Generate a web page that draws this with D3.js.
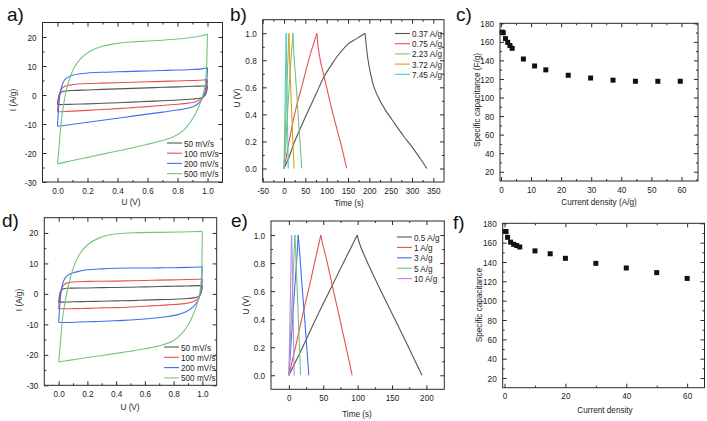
<!DOCTYPE html>
<html><head><meta charset="utf-8">
<script src="https://cdn.jsdelivr.net/npm/d3@7"></script>
<style>body{margin:0;background:#fff}svg{display:block}</style>
</head><body><svg id="c" width="707" height="421"></svg>
<script>
// ---------- Panel a: CV curves (U in V, I in A/g) ----------
const cvLegendA = ["50 mV/s","100 mV/s","200 mV/s","500 mV/s"];
const cvA50 = [[0,-3.3],[0.003,-2.0],[0.008,-0.5],[0.015,0.5],[0.03,1.1],[0.06,1.4],[0.1,1.55],[0.2,1.75],[0.3,1.95],[0.4,2.1],[0.5,2.3],[0.6,2.45],[0.7,2.65],[0.8,2.8],[0.9,3.0],[0.97,3.1],[1.0,3.2],
  [0.998,2.2],[0.993,1.0],[0.985,0.0],[0.97,-0.7],[0.95,-1.1],[0.9,-1.4],[0.8,-1.75],[0.7,-2.0],[0.6,-2.2],[0.5,-2.45],[0.4,-2.65],[0.3,-2.85],[0.2,-3.05],[0.1,-3.2],[0.03,-3.3],[0,-3.3]];
const cvA100 = [[0,-5.8],[0.003,-3.5],[0.008,-1.0],[0.015,0.8],[0.03,2.3],[0.05,3.0],[0.08,3.4],[0.12,3.7],[0.2,3.95],[0.3,4.1],[0.4,4.25],[0.5,4.4],[0.6,4.55],[0.7,4.7],[0.8,4.85],[0.9,5.0],[0.97,5.15],[1.0,5.3],
  [0.998,3.8],[0.993,2.0],[0.985,0.5],[0.97,-0.7],[0.95,-1.6],[0.92,-2.3],[0.87,-2.8],[0.8,-3.2],[0.7,-3.6],[0.6,-4.0],[0.5,-4.35],[0.4,-4.7],[0.3,-5.0],[0.2,-5.3],[0.1,-5.55],[0.03,-5.75],[0,-5.8]];
const cvA200 = [[0,-10.8],[0.003,-8],[0.008,-4],[0.015,-0.5],[0.025,2.5],[0.04,4.6],[0.06,5.8],[0.1,6.8],[0.15,7.3],[0.2,7.6],[0.3,7.85],[0.4,8.0],[0.5,8.15],[0.6,8.3],[0.7,8.45],[0.8,8.6],[0.9,8.8],[0.97,9.1],[1.0,9.5],
  [0.998,7],[0.993,4],[0.985,1.5],[0.97,-0.8],[0.95,-2.4],[0.92,-3.6],[0.88,-4.4],[0.8,-5.2],[0.7,-5.9],[0.6,-6.6],[0.5,-7.3],[0.4,-8.0],[0.3,-8.7],[0.2,-9.4],[0.1,-10.1],[0.03,-10.6],[0,-10.8]];
const cvA500 = [[0,-23.7],[0.01,-18],[0.02,-12],[0.03,-7],[0.045,-2],[0.06,2],[0.08,5.5],[0.1,8.3],[0.13,11],[0.17,13.3],[0.22,15.2],[0.3,16.8],[0.4,17.8],[0.5,18.3],[0.6,18.6],[0.7,18.9],[0.8,19.3],[0.9,19.9],[0.97,20.5],[1.0,21],
  [0.997,15],[0.993,9],[0.985,4],[0.97,0],[0.95,-3],[0.92,-6.5],[0.88,-9.8],[0.84,-12.2],[0.78,-14.2],[0.7,-15.7],[0.6,-17],[0.5,-18.2],[0.4,-19.3],[0.3,-20.4],[0.2,-21.5],[0.1,-22.6],[0.03,-23.4],[0,-23.7]];

// ---------- Panel d: CV curves ----------
const cvLegendD = ["50 mV/s","100 mV/s","200 mV/s","500 mV/s"];
const cvD50 = [[0,-2.7],[0.003,-1.5],[0.008,0],[0.015,1.0],[0.03,1.6],[0.06,1.85],[0.1,1.9],[0.2,1.95],[0.3,2.05],[0.4,2.1],[0.5,2.2],[0.6,2.3],[0.7,2.4],[0.8,2.5],[0.9,2.6],[0.97,2.7],[1.0,2.8],
  [0.998,1.8],[0.993,0.6],[0.985,-0.3],[0.97,-0.9],[0.94,-1.3],[0.9,-1.5],[0.8,-1.75],[0.7,-1.9],[0.6,-2.05],[0.5,-2.2],[0.4,-2.3],[0.3,-2.4],[0.2,-2.5],[0.1,-2.6],[0.03,-2.7],[0,-2.7]];
const cvD100 = [[0,-4.9],[0.003,-3],[0.008,-0.8],[0.015,1.0],[0.03,2.6],[0.05,3.4],[0.08,3.8],[0.12,4.0],[0.2,4.1],[0.3,4.15],[0.4,4.2],[0.5,4.3],[0.6,4.4],[0.7,4.5],[0.8,4.6],[0.9,4.7],[0.97,4.8],[1.0,4.9],
  [0.998,3.5],[0.995,2],[0.99,0.5],[0.98,-0.8],[0.96,-1.9],[0.93,-2.7],[0.88,-3.2],[0.8,-3.5],[0.7,-3.8],[0.6,-4.05],[0.5,-4.3],[0.4,-4.5],[0.3,-4.6],[0.2,-4.75],[0.1,-4.85],[0.03,-4.9],[0,-4.9]];
const cvD200 = [[0,-9.4],[0.003,-7],[0.008,-3.5],[0.015,0],[0.025,2.8],[0.04,4.8],[0.06,6.0],[0.1,6.9],[0.15,7.5],[0.2,7.9],[0.3,8.2],[0.4,8.4],[0.5,8.5],[0.6,8.5],[0.7,8.55],[0.8,8.6],[0.9,8.7],[0.97,8.8],[1.0,9.0],
  [0.998,6.5],[0.995,3.5],[0.99,1.2],[0.98,-1],[0.96,-2.9],[0.93,-4.5],[0.89,-5.8],[0.83,-6.8],[0.75,-7.5],[0.65,-8.0],[0.55,-8.4],[0.45,-8.7],[0.35,-8.9],[0.25,-9.1],[0.15,-9.25],[0.05,-9.4],[0,-9.4]];
const cvD500 = [[0,-22.3],[0.01,-17],[0.02,-11.5],[0.03,-7],[0.045,-2.5],[0.06,1],[0.08,5],[0.1,8.3],[0.13,11.7],[0.17,14.6],[0.22,16.8],[0.28,18.3],[0.35,19.3],[0.45,19.9],[0.55,20.1],[0.7,20.2],[0.85,20.3],[1.0,20.5],
  [0.998,14],[0.995,7],[0.99,3],[0.975,-1.5],[0.955,-4.5],[0.93,-7.5],[0.9,-10.3],[0.86,-12.9],[0.8,-15.3],[0.72,-16.8],[0.6,-18],[0.5,-18.8],[0.4,-19.5],[0.3,-20.2],[0.2,-20.9],[0.1,-21.6],[0.03,-22.1],[0,-22.3]];

// ---------- Panel b: GCD curves (time s, U V) ----------
const gcdLegendB = ["0.37 A/g","0.75 A/g","2.23 A/g","3.72 A/g","7.45 A/g"];
const gcdB037 = [[0,0],[10,0.07],[25,0.2],[50,0.38],[75,0.55],[94,0.68],[110,0.76],[125,0.83],[150,0.92],[170,0.96],[190,1.0],
  [193,0.9],[197,0.8],[203,0.7],[211,0.6],[225,0.5],[240,0.42],[260,0.33],[280,0.24],[300,0.16],[320,0.07],[335,0]];
const gcdB075 = [[0,0],[5,0.08],[10,0.17],[20,0.33],[30,0.47],[43,0.62],[55,0.77],[65,0.88],[72,0.95],[77,1.0],
  [80,0.9],[85,0.8],[94,0.68],[105,0.53],[115,0.4],[125,0.28],[135,0.16],[147,0]];
const gcdB223 = [[0,0],[3,0.12],[7,0.35],[11,0.55],[15,0.75],[18,0.88],[21,1.0],[23,0.85],[27,0.68],[31,0.5],[35,0.3],[38,0.17],[41.5,0]];
const gcdB372 = [[0,0],[2,0.15],[4,0.35],[6,0.55],[8,0.72],[10,0.88],[11.5,1.0],[12.5,0.86],[15,0.65],[17.5,0.45],[20,0.25],[23.5,0]];
const gcdB745 = [[0,0],[1,0.2],[2,0.4],[3,0.6],[4,0.8],[5,1.0],[5.8,0.8],[6.8,0.6],[7.8,0.4],[8.8,0.2],[10,0]];

// ---------- Panel e: GCD curves ----------
const gcdLegendE = ["0.5 A/g","1 A/g","3 A/g","5 A/g","10 A/g"];
const gcdE05 = [[0,0],[20,0.2],[40,0.41],[60,0.61],[80,0.81],[99.5,1.0],[102,0.95],[110,0.85],[130,0.64],[150,0.44],[170,0.24],[193.5,0]];
const gcdE1 = [[0,0],[10,0.21],[20,0.43],[30,0.64],[40,0.86],[46.5,1.0],[48,0.96],[55,0.82],[65,0.6],[75,0.38],[85,0.16],[92,0]];
const gcdE3 = [[0,0],[3,0.22],[6,0.44],[9,0.66],[12,0.87],[13.5,1.0],[15,0.92],[19,0.65],[23,0.4],[26,0.2],[29,0]];
const gcdE5 = [[0,0],[2,0.23],[4,0.46],[6,0.69],[8.7,1.0],[9.5,0.93],[12,0.62],[14.5,0.31],[17,0]];
const gcdE10 = [[0,0],[1,0.25],[2,0.5],[3,0.75],[3.9,1.0],[4.5,0.9],[5.5,0.62],[6.5,0.33],[7.7,0]];

// ---------- Panel c / f: specific capacitance ----------
const currentC = [0.37,0.75,1.49,2.23,2.98,3.72,7.45,11.17,14.9,22.35,29.8,37.25,44.7,52.15,59.6];
const capC = [170.5,169.8,163.5,159.5,156,153,141.5,134,129.8,124,121,118.7,117.5,117.5,117.5];
const currentF = [0.2,0.5,1,2,3,4,5,10,15,20,30,40,50,60];
const capF = [171.5,171.5,165.5,160.5,158.3,157,155.5,151.5,148.5,143.8,138.6,133.8,129,123];

// ---------- tick labels ----------
const cvXTicks = [0,0.2,0.4,0.6,0.8,1.0];
const cvXTickLabels = ["0.0","0.2","0.4","0.6","0.8","1.0"];
const cvYTicks = [-30,-20,-10,0,10,20];
const cvYTickLabels = ["-30","-20","-10","0","10","20"];
const bXTicks = [-50,0,50,100,150,200,250,300,350];
const bXTickLabels = ["-50","0","50","100","150","200","250","300","350"];
const eXTicks = [0,50,100,150,200];
const eXTickLabels = ["0","50","100","150","200"];
const uYTicks = [0,0.2,0.4,0.6,0.8,1.0];
const uYTickLabels = ["0.0","0.2","0.4","0.6","0.8","1.0"];
const cXTicks = [0,10,20,30,40,50,60];
const cXTickLabels = ["0","10","20","30","40","50","60"];
const fXTicks = [0,20,40,60];
const fXTickLabels = ["0","20","40","60"];
const capYTicks = [20,40,60,80,100,120,140,160,180];
const capYTickLabels = ["20","40","60","80","100","120","140","160","180"];

const GRAY = "#555555", RED = "#e8504c", BLUE = "#3f6fee", GREEN = "#76c47a", ORANGE = "#d6a21e", CYAN = "#3fd3cc", VIOLET = "#c184f2";
const FONT = "'Liberation Sans',Arial,sans-serif";
const FS = 9.5;
const svg = d3.select('#c');

function drawPanel(p) {
  const [l, r, t, b] = p.box;
  const x = d3.scaleLinear().domain(p.xDomain).range([l, r]);
  const y = d3.scaleLinear().domain(p.yDomain).range([b, t]);
  const g = svg.append('g');
  const line = d3.line().x(d => x(d[0])).y(d => y(d[1])).curve(d3.curveCatmullRom.alpha(0.5));
  (p.series || []).forEach(s => {
    const k = d3.maxIndex(s.data, d => d[1]);
    [s.data.slice(0, k + 1), s.data.slice(k)].forEach(seg => {
      if (seg.length > 1) g.append('path').attr('d', line(seg)).attr('fill', 'none')
        .attr('stroke', s.color).attr('stroke-width', 1.1);
    });
  });
  if (p.points) {
    const ms = 5;
    g.selectAll('rect.pt').data(p.points.x.map((v, i) => [v, p.points.y[i]])).join('rect')
      .attr('x', d => x(d[0]) - ms / 2).attr('y', d => y(d[1]) - ms / 2)
      .attr('width', ms).attr('height', ms).attr('fill', '#111');
  }
  g.append('rect').attr('x', l).attr('y', t).attr('width', r - l).attr('height', b - t)
    .attr('fill', 'none').attr('stroke', '#2a2a2a').attr('stroke-width', 1);
  const style = sel => {
    sel.select('.domain').remove();
    sel.attr('font-family', FONT).attr('font-size', FS);
    sel.selectAll('line').attr('stroke', '#2a2a2a');
    sel.selectAll('text').attr('fill', '#222').classed('cond', true);
  };
  const none = () => '';
  g.append('g').attr('transform', `translate(0,${b})`)
    .call(d3.axisBottom(x).tickValues(p.xTicks).tickFormat((d, i) => p.xLabels[i]).tickSize(-4).tickSizeOuter(0).tickPadding(5)).call(style);
  g.append('g').attr('transform', `translate(0,${b})`)
    .call(d3.axisBottom(x).tickValues(p.xMinor).tickFormat(none).tickSize(-2).tickSizeOuter(0)).call(style);
  g.append('g').attr('transform', `translate(0,${t})`)
    .call(d3.axisTop(x).tickValues(p.xTicks).tickFormat(none).tickSize(-4).tickSizeOuter(0)).call(style);
  g.append('g').attr('transform', `translate(0,${t})`)
    .call(d3.axisTop(x).tickValues(p.xMinor).tickFormat(none).tickSize(-2).tickSizeOuter(0)).call(style);
  g.append('g').attr('transform', `translate(${l},0)`)
    .call(d3.axisLeft(y).tickValues(p.yTicks).tickFormat((d, i) => p.yLabels[i]).tickSize(-4).tickSizeOuter(0).tickPadding(6)).call(style);
  g.append('g').attr('transform', `translate(${l},0)`)
    .call(d3.axisLeft(y).tickValues(p.yMinor).tickFormat(none).tickSize(-2).tickSizeOuter(0)).call(style);
  g.append('g').attr('transform', `translate(${r},0)`)
    .call(d3.axisRight(y).tickValues(p.yTicks).tickFormat(none).tickSize(-4).tickSizeOuter(0)).call(style);
  g.append('g').attr('transform', `translate(${r},0)`)
    .call(d3.axisRight(y).tickValues(p.yMinor).tickFormat(none).tickSize(-2).tickSizeOuter(0)).call(style);
  g.append('text').attr('class', 'cond').attr('x', p.xTitle[1]).attr('y', p.xTitle[2]).attr('text-anchor', 'middle')
    .attr('font-family', FONT).attr('font-size', FS).attr('fill', '#222').text(p.xTitle[0]);
  g.append('text').attr('class', 'cond').attr('transform', `translate(${p.yTitle[1]},${p.yTitle[2]}) rotate(-90)`)
    .attr('text-anchor', 'middle').attr('dominant-baseline', 'central')
    .attr('font-family', FONT).attr('font-size', FS).attr('fill', '#222').text(p.yTitle[0]);
  g.append('text').attr('x', p.tag[1]).attr('y', p.tag[2]).attr('font-family', FONT)
    .attr('font-size', 19).attr('fill', '#111').text(p.tag[0]);
  if (p.legend) {
    const [lx, ly, dy] = p.legend.pos;
    p.legend.labels.forEach((lab, i) => {
      const yy = ly + i * dy;
      g.append('line').attr('x1', lx).attr('x2', lx + 15).attr('y1', yy).attr('y2', yy)
        .attr('stroke', p.series[i].color).attr('stroke-width', 1.1);
      g.append('text').attr('class', 'cond').attr('x', lx + 17).attr('y', yy).attr('dominant-baseline', 'central')
        .attr('font-family', FONT).attr('font-size', FS).attr('fill', '#222').text(lab);
    });
  }
}

drawPanel({
  box: [42.5, 222.5, 22.5, 182], xDomain: [-0.1, 1.1], yDomain: [-30, 25],
  xTicks: cvXTicks, xLabels: cvXTickLabels, xMinor: [0.1, 0.3, 0.5, 0.7, 0.9],
  yTicks: cvYTicks, yLabels: cvYTickLabels, yMinor: [-25, -15, -5, 5, 15],
  series: [{data: cvA50, color: GRAY}, {data: cvA100, color: RED}, {data: cvA200, color: BLUE}, {data: cvA500, color: GREEN}],
  legend: {labels: cvLegendA, pos: [167, 143, 10.2]},
  xTitle: ["U (V)", 131, 205], yTitle: ["I (A/g)", 12, 100], tag: ["a)", 7, 21]
});
drawPanel({
  box: [262.7, 444, 19.7, 182], xDomain: [-50, 375], yDomain: [-0.1, 1.1],
  xTicks: bXTicks, xLabels: bXTickLabels, xMinor: [-25, 25, 75, 125, 175, 225, 275, 325],
  yTicks: uYTicks, yLabels: uYTickLabels, yMinor: [0.1, 0.3, 0.5, 0.7, 0.9],
  series: [{data: gcdB037, color: GRAY}, {data: gcdB075, color: RED}, {data: gcdB223, color: GREEN}, {data: gcdB372, color: ORANGE}, {data: gcdB745, color: CYAN}],
  legend: {labels: gcdLegendB, pos: [395, 33.5, 10.2]},
  xTitle: ["Time (s)", 349, 206], yTitle: ["U (V)", 236, 98], tag: ["b)", 230, 21]
});
drawPanel({
  box: [500, 698, 23.3, 181], xDomain: [-0.33, 65.5], yDomain: [10, 180],
  xTicks: cXTicks, xLabels: cXTickLabels, xMinor: [5, 15, 25, 35, 45, 55, 65],
  yTicks: capYTicks, yLabels: capYTickLabels, yMinor: [30, 50, 70, 90, 110, 130, 150, 170],
  points: {x: currentC, y: capC},
  xTitle: ["Current density (A/g)", 599, 205], yTitle: ["Specific capacitance (F/g)", 476, 100], tag: ["c)", 456, 21]
});
drawPanel({
  box: [44.3, 216.7, 217.7, 385.3], xDomain: [-0.1, 1.1], yDomain: [-30, 25],
  xTicks: cvXTicks, xLabels: cvXTickLabels, xMinor: [0.1, 0.3, 0.5, 0.7, 0.9],
  yTicks: cvYTicks, yLabels: cvYTickLabels, yMinor: [-25, -15, -5, 5, 15],
  series: [{data: cvD50, color: GRAY}, {data: cvD100, color: RED}, {data: cvD200, color: BLUE}, {data: cvD500, color: GREEN}],
  legend: {labels: cvLegendD, pos: [164, 347, 10.3]},
  xTitle: ["U (V)", 130, 410], yTitle: ["I (A/g)", 18, 300], tag: ["d)", 2, 227]
});
drawPanel({
  box: [271, 444.3, 221, 389.3], xDomain: [-26, 226], yDomain: [-0.1, 1.1],
  xTicks: eXTicks, xLabels: eXTickLabels, xMinor: [25, 75, 125, 175],
  yTicks: uYTicks, yLabels: uYTickLabels, yMinor: [0.1, 0.3, 0.5, 0.7, 0.9],
  series: [{data: gcdE05, color: GRAY}, {data: gcdE1, color: RED}, {data: gcdE3, color: BLUE}, {data: gcdE5, color: GREEN}, {data: gcdE10, color: VIOLET}],
  legend: {labels: gcdLegendE, pos: [397, 237, 10.4]},
  xTitle: ["Time (s)", 357, 417], yTitle: ["U (V)", 245, 305], tag: ["e)", 231, 227]
});
drawPanel({
  box: [502.7, 704.5, 223.3, 387.7], xDomain: [-0.6, 65.7], yDomain: [10, 180],
  xTicks: fXTicks, xLabels: fXTickLabels, xMinor: [10, 30, 50],
  yTicks: capYTicks, yLabels: capYTickLabels, yMinor: [30, 50, 70, 90, 110, 130, 150, 170],
  points: {x: currentF, y: capF},
  xTitle: ["Current density", 605, 413], yTitle: ["Specific capacitance", 478, 305], tag: ["f)", 453, 229]
});

// condense the small labels to match the narrow typeface of the original
svg.selectAll('text.cond').each(function () {
  const w = this.getComputedTextLength();
  if (w > 0) {
    this.setAttribute('textLength', (w * 0.86).toFixed(2));
    this.setAttribute('lengthAdjust', 'spacingAndGlyphs');
  }
});
</script></body></html>
